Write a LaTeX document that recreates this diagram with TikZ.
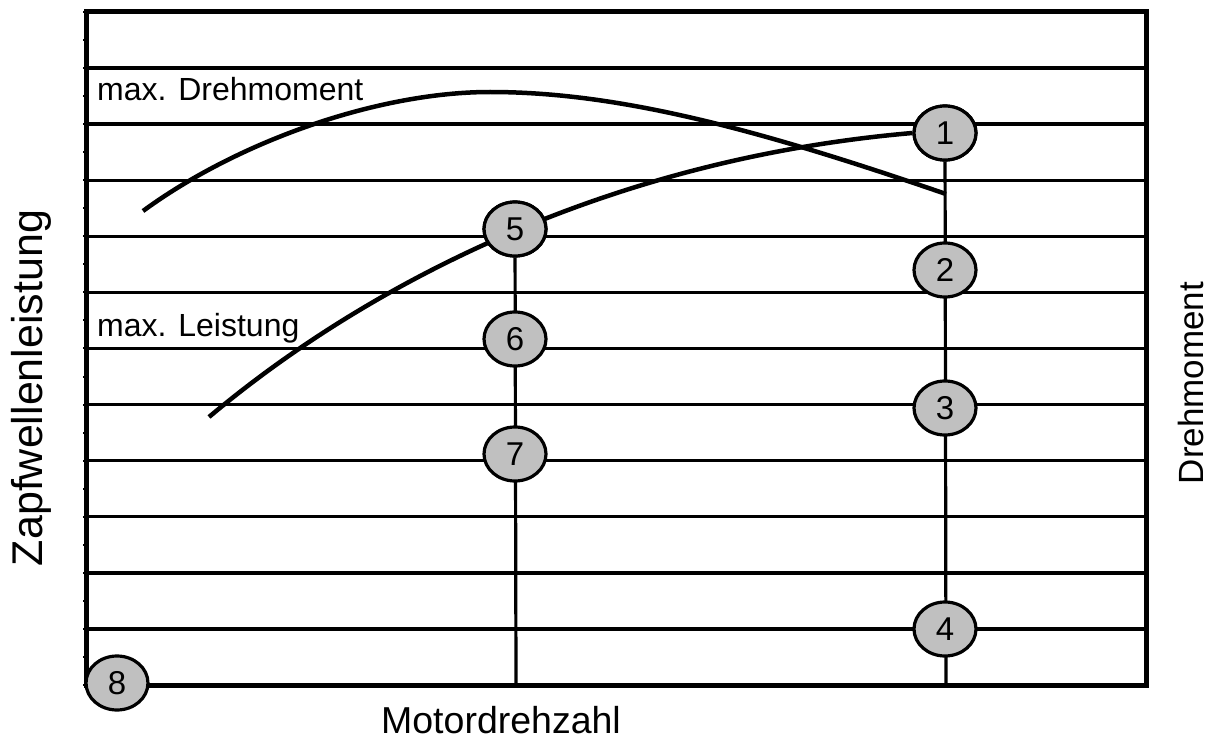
\documentclass[tikz,border=0pt]{standalone}
\usepackage{fontspec}
\setmainfont{Liberation Sans}
\usetikzlibrary{shapes.geometric}
\begin{document}
\begin{tikzpicture}[x=1pt,y=-1pt,
  frame/.style={line width=5pt},
  grid/.style={line width=3.4pt},
  curve/.style={line width=4.5pt},
  vline/.style={line width=3.2pt},
  pt/.style={ellipse, draw, line width=3.2pt, fill={rgb,255:red,192;green,192;blue,192},
    minimum width=62pt, minimum height=54pt, inner sep=0pt,
    font=\fontsize{33}{33}\selectfont},
  lab/.style={anchor=base west, inner sep=0pt, font=\fontsize{32}{32}\selectfont},
  axis/.style={inner sep=0pt, font=\fontsize{37.5}{37.5}\selectfont}]
\useasboundingbox (0,0) rectangle (1216,749);
% grid lines
\foreach \i in {1,...,11} {
  \draw[grid] (86,{12+\i*56.08}) -- (1146,{12+\i*56.08});
}
% ticks
\foreach \i in {0,...,16} {
  \draw[line width=2pt] ({86+\i*66.25},12) -- ++(0,-3);
  \draw[line width=2pt] ({86+\i*66.25},685) -- ++(0,3);
}
\foreach \i in {0,...,24} {
  \draw[line width=2pt] (86,{12+\i*28.04}) -- ++(-3,0);
  \draw[line width=2pt] (1146,{12+\i*28.04}) -- ++(3,0);
}
% frame
\draw[frame] (86,12) rectangle (1146,685);
% coordinates
\coordinate (b1) at (946,685);
\coordinate (b5) at (516,685);
\coordinate (tq0) at (143,211);
\coordinate (tqp) at (490,92);
\coordinate (tq1) at (946,194);
\coordinate (pw0) at (209,417);
% nodes
\node[pt] (c1) at (945,133) {1};
\node[pt] (c5) at (515,229) {5};
% vertical lines
\draw[vline] (c1) -- (b1);
\draw[vline] (c5) -- (b5);
% curves
\draw[curve] (tq0) .. controls (240,140) and (380,92) .. (tqp)
  .. controls (620,92) and (760,130) .. (tq1);
\draw[curve] (pw0) .. controls (360,290) and (600,160) .. (c1.west);
% circles
\node[pt] at (945,133) {1};
\node[pt] (c2) at (945,270) {2};
\node[pt] (c3) at (945,408) {3};
\node[pt] (c4) at (945,629) {4};
\node[pt] at (515,229) {5};
\node[pt] (c6) at (515,339) {6};
\node[pt] (c7) at (515,454) {7};
\node[pt] (c8) at (117,683) {8};
% labels
\node[lab] (l1) at (97,101) {max. Drehmoment};
\node[lab] (l2) at (97,336) {max. Leistung};
\node[axis] (ax) at (501,720) {Motordrehzahl};
\node[axis, rotate=90, font=\fontsize{43}{43}\selectfont] (ay) at (31,388) {Zapfwellenleistung};
\node[axis, rotate=90, font=\fontsize{35}{35}\selectfont] (ay2) at (1191,383) {Drehmoment};
\end{tikzpicture}
\end{document}
